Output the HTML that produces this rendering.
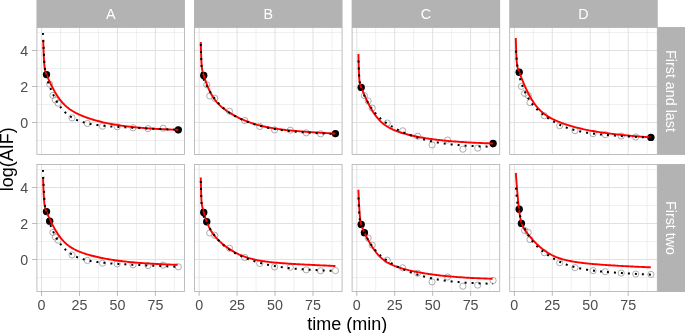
<!DOCTYPE html>
<html><head><meta charset="utf-8"><style>html,body{margin:0;padding:0;background:#fff;overflow:hidden}svg{display:block}</style></head>
<body><svg width="685" height="333" viewBox="0 0 685 333">
<rect width="685" height="333" fill="#fff"/>
<g>
<line x1="60.52" y1="27.50" x2="60.52" y2="154.50" stroke="#dedede" stroke-width="0.45"/>
<line x1="98.47" y1="27.50" x2="98.47" y2="154.50" stroke="#dedede" stroke-width="0.45"/>
<line x1="136.43" y1="27.50" x2="136.43" y2="154.50" stroke="#dedede" stroke-width="0.45"/>
<line x1="174.38" y1="27.50" x2="174.38" y2="154.50" stroke="#dedede" stroke-width="0.45"/>
<line x1="36.90" y1="140.50" x2="184.50" y2="140.50" stroke="#dedede" stroke-width="0.45"/>
<line x1="36.90" y1="104.50" x2="184.50" y2="104.50" stroke="#dedede" stroke-width="0.45"/>
<line x1="36.90" y1="68.50" x2="184.50" y2="68.50" stroke="#dedede" stroke-width="0.45"/>
<line x1="36.90" y1="32.50" x2="184.50" y2="32.50" stroke="#dedede" stroke-width="0.45"/>
<line x1="41.55" y1="27.50" x2="41.55" y2="154.50" stroke="#dedede" stroke-width="0.9"/>
<line x1="79.50" y1="27.50" x2="79.50" y2="154.50" stroke="#dedede" stroke-width="0.9"/>
<line x1="117.45" y1="27.50" x2="117.45" y2="154.50" stroke="#dedede" stroke-width="0.9"/>
<line x1="155.40" y1="27.50" x2="155.40" y2="154.50" stroke="#dedede" stroke-width="0.9"/>
<line x1="36.90" y1="122.50" x2="184.50" y2="122.50" stroke="#dedede" stroke-width="0.9"/>
<line x1="36.90" y1="86.50" x2="184.50" y2="86.50" stroke="#dedede" stroke-width="0.9"/>
<line x1="36.90" y1="50.50" x2="184.50" y2="50.50" stroke="#dedede" stroke-width="0.9"/>
</g>
<g>
<line x1="218.12" y1="27.50" x2="218.12" y2="154.50" stroke="#dedede" stroke-width="0.45"/>
<line x1="256.07" y1="27.50" x2="256.07" y2="154.50" stroke="#dedede" stroke-width="0.45"/>
<line x1="294.02" y1="27.50" x2="294.02" y2="154.50" stroke="#dedede" stroke-width="0.45"/>
<line x1="331.98" y1="27.50" x2="331.98" y2="154.50" stroke="#dedede" stroke-width="0.45"/>
<line x1="194.50" y1="140.50" x2="342.10" y2="140.50" stroke="#dedede" stroke-width="0.45"/>
<line x1="194.50" y1="104.50" x2="342.10" y2="104.50" stroke="#dedede" stroke-width="0.45"/>
<line x1="194.50" y1="68.50" x2="342.10" y2="68.50" stroke="#dedede" stroke-width="0.45"/>
<line x1="194.50" y1="32.50" x2="342.10" y2="32.50" stroke="#dedede" stroke-width="0.45"/>
<line x1="199.15" y1="27.50" x2="199.15" y2="154.50" stroke="#dedede" stroke-width="0.9"/>
<line x1="237.10" y1="27.50" x2="237.10" y2="154.50" stroke="#dedede" stroke-width="0.9"/>
<line x1="275.05" y1="27.50" x2="275.05" y2="154.50" stroke="#dedede" stroke-width="0.9"/>
<line x1="313.00" y1="27.50" x2="313.00" y2="154.50" stroke="#dedede" stroke-width="0.9"/>
<line x1="194.50" y1="122.50" x2="342.10" y2="122.50" stroke="#dedede" stroke-width="0.9"/>
<line x1="194.50" y1="86.50" x2="342.10" y2="86.50" stroke="#dedede" stroke-width="0.9"/>
<line x1="194.50" y1="50.50" x2="342.10" y2="50.50" stroke="#dedede" stroke-width="0.9"/>
</g>
<g>
<line x1="375.72" y1="27.50" x2="375.72" y2="154.50" stroke="#dedede" stroke-width="0.45"/>
<line x1="413.67" y1="27.50" x2="413.67" y2="154.50" stroke="#dedede" stroke-width="0.45"/>
<line x1="451.62" y1="27.50" x2="451.62" y2="154.50" stroke="#dedede" stroke-width="0.45"/>
<line x1="489.57" y1="27.50" x2="489.57" y2="154.50" stroke="#dedede" stroke-width="0.45"/>
<line x1="352.10" y1="140.50" x2="499.70" y2="140.50" stroke="#dedede" stroke-width="0.45"/>
<line x1="352.10" y1="104.50" x2="499.70" y2="104.50" stroke="#dedede" stroke-width="0.45"/>
<line x1="352.10" y1="68.50" x2="499.70" y2="68.50" stroke="#dedede" stroke-width="0.45"/>
<line x1="352.10" y1="32.50" x2="499.70" y2="32.50" stroke="#dedede" stroke-width="0.45"/>
<line x1="356.75" y1="27.50" x2="356.75" y2="154.50" stroke="#dedede" stroke-width="0.9"/>
<line x1="394.70" y1="27.50" x2="394.70" y2="154.50" stroke="#dedede" stroke-width="0.9"/>
<line x1="432.65" y1="27.50" x2="432.65" y2="154.50" stroke="#dedede" stroke-width="0.9"/>
<line x1="470.60" y1="27.50" x2="470.60" y2="154.50" stroke="#dedede" stroke-width="0.9"/>
<line x1="352.10" y1="122.50" x2="499.70" y2="122.50" stroke="#dedede" stroke-width="0.9"/>
<line x1="352.10" y1="86.50" x2="499.70" y2="86.50" stroke="#dedede" stroke-width="0.9"/>
<line x1="352.10" y1="50.50" x2="499.70" y2="50.50" stroke="#dedede" stroke-width="0.9"/>
</g>
<g>
<line x1="533.32" y1="27.50" x2="533.32" y2="154.50" stroke="#dedede" stroke-width="0.45"/>
<line x1="571.27" y1="27.50" x2="571.27" y2="154.50" stroke="#dedede" stroke-width="0.45"/>
<line x1="609.22" y1="27.50" x2="609.22" y2="154.50" stroke="#dedede" stroke-width="0.45"/>
<line x1="647.17" y1="27.50" x2="647.17" y2="154.50" stroke="#dedede" stroke-width="0.45"/>
<line x1="509.70" y1="140.50" x2="657.30" y2="140.50" stroke="#dedede" stroke-width="0.45"/>
<line x1="509.70" y1="104.50" x2="657.30" y2="104.50" stroke="#dedede" stroke-width="0.45"/>
<line x1="509.70" y1="68.50" x2="657.30" y2="68.50" stroke="#dedede" stroke-width="0.45"/>
<line x1="509.70" y1="32.50" x2="657.30" y2="32.50" stroke="#dedede" stroke-width="0.45"/>
<line x1="514.35" y1="27.50" x2="514.35" y2="154.50" stroke="#dedede" stroke-width="0.9"/>
<line x1="552.30" y1="27.50" x2="552.30" y2="154.50" stroke="#dedede" stroke-width="0.9"/>
<line x1="590.25" y1="27.50" x2="590.25" y2="154.50" stroke="#dedede" stroke-width="0.9"/>
<line x1="628.20" y1="27.50" x2="628.20" y2="154.50" stroke="#dedede" stroke-width="0.9"/>
<line x1="509.70" y1="122.50" x2="657.30" y2="122.50" stroke="#dedede" stroke-width="0.9"/>
<line x1="509.70" y1="86.50" x2="657.30" y2="86.50" stroke="#dedede" stroke-width="0.9"/>
<line x1="509.70" y1="50.50" x2="657.30" y2="50.50" stroke="#dedede" stroke-width="0.9"/>
</g>
<g>
<line x1="60.52" y1="164.50" x2="60.52" y2="291.50" stroke="#dedede" stroke-width="0.45"/>
<line x1="98.47" y1="164.50" x2="98.47" y2="291.50" stroke="#dedede" stroke-width="0.45"/>
<line x1="136.43" y1="164.50" x2="136.43" y2="291.50" stroke="#dedede" stroke-width="0.45"/>
<line x1="174.38" y1="164.50" x2="174.38" y2="291.50" stroke="#dedede" stroke-width="0.45"/>
<line x1="36.90" y1="277.50" x2="184.50" y2="277.50" stroke="#dedede" stroke-width="0.45"/>
<line x1="36.90" y1="241.50" x2="184.50" y2="241.50" stroke="#dedede" stroke-width="0.45"/>
<line x1="36.90" y1="205.50" x2="184.50" y2="205.50" stroke="#dedede" stroke-width="0.45"/>
<line x1="36.90" y1="169.50" x2="184.50" y2="169.50" stroke="#dedede" stroke-width="0.45"/>
<line x1="41.55" y1="164.50" x2="41.55" y2="291.50" stroke="#dedede" stroke-width="0.9"/>
<line x1="79.50" y1="164.50" x2="79.50" y2="291.50" stroke="#dedede" stroke-width="0.9"/>
<line x1="117.45" y1="164.50" x2="117.45" y2="291.50" stroke="#dedede" stroke-width="0.9"/>
<line x1="155.40" y1="164.50" x2="155.40" y2="291.50" stroke="#dedede" stroke-width="0.9"/>
<line x1="36.90" y1="259.50" x2="184.50" y2="259.50" stroke="#dedede" stroke-width="0.9"/>
<line x1="36.90" y1="223.50" x2="184.50" y2="223.50" stroke="#dedede" stroke-width="0.9"/>
<line x1="36.90" y1="187.50" x2="184.50" y2="187.50" stroke="#dedede" stroke-width="0.9"/>
</g>
<g>
<line x1="218.12" y1="164.50" x2="218.12" y2="291.50" stroke="#dedede" stroke-width="0.45"/>
<line x1="256.07" y1="164.50" x2="256.07" y2="291.50" stroke="#dedede" stroke-width="0.45"/>
<line x1="294.02" y1="164.50" x2="294.02" y2="291.50" stroke="#dedede" stroke-width="0.45"/>
<line x1="331.98" y1="164.50" x2="331.98" y2="291.50" stroke="#dedede" stroke-width="0.45"/>
<line x1="194.50" y1="277.50" x2="342.10" y2="277.50" stroke="#dedede" stroke-width="0.45"/>
<line x1="194.50" y1="241.50" x2="342.10" y2="241.50" stroke="#dedede" stroke-width="0.45"/>
<line x1="194.50" y1="205.50" x2="342.10" y2="205.50" stroke="#dedede" stroke-width="0.45"/>
<line x1="194.50" y1="169.50" x2="342.10" y2="169.50" stroke="#dedede" stroke-width="0.45"/>
<line x1="199.15" y1="164.50" x2="199.15" y2="291.50" stroke="#dedede" stroke-width="0.9"/>
<line x1="237.10" y1="164.50" x2="237.10" y2="291.50" stroke="#dedede" stroke-width="0.9"/>
<line x1="275.05" y1="164.50" x2="275.05" y2="291.50" stroke="#dedede" stroke-width="0.9"/>
<line x1="313.00" y1="164.50" x2="313.00" y2="291.50" stroke="#dedede" stroke-width="0.9"/>
<line x1="194.50" y1="259.50" x2="342.10" y2="259.50" stroke="#dedede" stroke-width="0.9"/>
<line x1="194.50" y1="223.50" x2="342.10" y2="223.50" stroke="#dedede" stroke-width="0.9"/>
<line x1="194.50" y1="187.50" x2="342.10" y2="187.50" stroke="#dedede" stroke-width="0.9"/>
</g>
<g>
<line x1="375.72" y1="164.50" x2="375.72" y2="291.50" stroke="#dedede" stroke-width="0.45"/>
<line x1="413.67" y1="164.50" x2="413.67" y2="291.50" stroke="#dedede" stroke-width="0.45"/>
<line x1="451.62" y1="164.50" x2="451.62" y2="291.50" stroke="#dedede" stroke-width="0.45"/>
<line x1="489.57" y1="164.50" x2="489.57" y2="291.50" stroke="#dedede" stroke-width="0.45"/>
<line x1="352.10" y1="277.50" x2="499.70" y2="277.50" stroke="#dedede" stroke-width="0.45"/>
<line x1="352.10" y1="241.50" x2="499.70" y2="241.50" stroke="#dedede" stroke-width="0.45"/>
<line x1="352.10" y1="205.50" x2="499.70" y2="205.50" stroke="#dedede" stroke-width="0.45"/>
<line x1="352.10" y1="169.50" x2="499.70" y2="169.50" stroke="#dedede" stroke-width="0.45"/>
<line x1="356.75" y1="164.50" x2="356.75" y2="291.50" stroke="#dedede" stroke-width="0.9"/>
<line x1="394.70" y1="164.50" x2="394.70" y2="291.50" stroke="#dedede" stroke-width="0.9"/>
<line x1="432.65" y1="164.50" x2="432.65" y2="291.50" stroke="#dedede" stroke-width="0.9"/>
<line x1="470.60" y1="164.50" x2="470.60" y2="291.50" stroke="#dedede" stroke-width="0.9"/>
<line x1="352.10" y1="259.50" x2="499.70" y2="259.50" stroke="#dedede" stroke-width="0.9"/>
<line x1="352.10" y1="223.50" x2="499.70" y2="223.50" stroke="#dedede" stroke-width="0.9"/>
<line x1="352.10" y1="187.50" x2="499.70" y2="187.50" stroke="#dedede" stroke-width="0.9"/>
</g>
<g>
<line x1="533.32" y1="164.50" x2="533.32" y2="291.50" stroke="#dedede" stroke-width="0.45"/>
<line x1="571.27" y1="164.50" x2="571.27" y2="291.50" stroke="#dedede" stroke-width="0.45"/>
<line x1="609.22" y1="164.50" x2="609.22" y2="291.50" stroke="#dedede" stroke-width="0.45"/>
<line x1="647.17" y1="164.50" x2="647.17" y2="291.50" stroke="#dedede" stroke-width="0.45"/>
<line x1="509.70" y1="277.50" x2="657.30" y2="277.50" stroke="#dedede" stroke-width="0.45"/>
<line x1="509.70" y1="241.50" x2="657.30" y2="241.50" stroke="#dedede" stroke-width="0.45"/>
<line x1="509.70" y1="205.50" x2="657.30" y2="205.50" stroke="#dedede" stroke-width="0.45"/>
<line x1="509.70" y1="169.50" x2="657.30" y2="169.50" stroke="#dedede" stroke-width="0.45"/>
<line x1="514.35" y1="164.50" x2="514.35" y2="291.50" stroke="#dedede" stroke-width="0.9"/>
<line x1="552.30" y1="164.50" x2="552.30" y2="291.50" stroke="#dedede" stroke-width="0.9"/>
<line x1="590.25" y1="164.50" x2="590.25" y2="291.50" stroke="#dedede" stroke-width="0.9"/>
<line x1="628.20" y1="164.50" x2="628.20" y2="291.50" stroke="#dedede" stroke-width="0.9"/>
<line x1="509.70" y1="259.50" x2="657.30" y2="259.50" stroke="#dedede" stroke-width="0.9"/>
<line x1="509.70" y1="223.50" x2="657.30" y2="223.50" stroke="#dedede" stroke-width="0.9"/>
<line x1="509.70" y1="187.50" x2="657.30" y2="187.50" stroke="#dedede" stroke-width="0.9"/>
</g>
<circle cx="46.50" cy="74.60" r="3.1" fill="none" stroke="#9e9e9e" stroke-width="0.85"/>
<circle cx="49.70" cy="84.20" r="3.1" fill="none" stroke="#9e9e9e" stroke-width="0.85"/>
<circle cx="52.90" cy="95.40" r="3.1" fill="none" stroke="#9e9e9e" stroke-width="0.85"/>
<circle cx="55.30" cy="100.00" r="3.1" fill="none" stroke="#9e9e9e" stroke-width="0.85"/>
<circle cx="58.10" cy="103.20" r="3.1" fill="none" stroke="#9e9e9e" stroke-width="0.85"/>
<circle cx="72.00" cy="117.90" r="3.1" fill="none" stroke="#9e9e9e" stroke-width="0.85"/>
<circle cx="87.40" cy="123.50" r="3.1" fill="none" stroke="#9e9e9e" stroke-width="0.85"/>
<circle cx="102.50" cy="126.20" r="3.1" fill="none" stroke="#9e9e9e" stroke-width="0.85"/>
<circle cx="117.20" cy="126.80" r="3.1" fill="none" stroke="#9e9e9e" stroke-width="0.85"/>
<circle cx="133.00" cy="127.80" r="3.1" fill="none" stroke="#9e9e9e" stroke-width="0.85"/>
<circle cx="148.00" cy="128.60" r="3.1" fill="none" stroke="#9e9e9e" stroke-width="0.85"/>
<circle cx="163.10" cy="128.20" r="3.1" fill="none" stroke="#9e9e9e" stroke-width="0.85"/>
<circle cx="178.30" cy="129.85" r="3.1" fill="none" stroke="#9e9e9e" stroke-width="0.85"/>
<circle cx="46.50" cy="74.60" r="3.65" fill="#000"/>
<circle cx="178.30" cy="129.85" r="3.65" fill="#000"/>
<path d="M43.22 40.45 L43.22 40.63 L43.24 41.16 L43.27 42.04 L43.30 43.25 L43.35 44.77 L43.41 46.56 L43.48 48.60 L43.56 50.82 L43.65 53.16 L43.75 55.57 L43.87 57.95 L43.99 60.24 L44.12 62.37 L44.27 64.28 L44.42 65.96 L44.59 67.40 L44.76 68.62 L44.95 69.66 L45.15 70.55 L45.36 71.33 L45.58 72.04 L45.80 72.72 L46.05 73.37 L46.30 74.01 L46.56 74.66 L46.83 75.31 L47.11 75.98 L47.41 76.67 L47.71 77.37 L48.03 78.09 L48.35 78.83 L48.69 79.58 L49.04 80.35 L49.40 81.14 L49.76 81.93 L50.14 82.74 L50.53 83.56 L50.93 84.39 L51.35 85.23 L51.77 86.08 L52.20 86.94 L52.64 87.80 L53.10 88.66 L53.56 89.53 L54.04 90.40 L54.53 91.26 L55.02 92.13 L55.53 92.99 L56.05 93.85 L56.58 94.70 L57.12 95.54 L57.67 96.38 L58.23 97.21 L58.80 98.02 L59.38 98.82 L59.98 99.61 L60.58 100.39 L61.19 101.15 L61.82 101.89 L62.45 102.62 L63.10 103.33 L63.76 104.02 L64.43 104.70 L65.10 105.35 L65.79 105.99 L66.49 106.62 L67.20 107.22 L67.93 107.81 L68.66 108.38 L69.40 108.94 L70.15 109.48 L70.92 110.00 L71.69 110.51 L72.48 111.01 L73.27 111.49 L74.08 111.96 L74.90 112.42 L75.73 112.87 L76.57 113.30 L77.42 113.72 L78.28 114.14 L79.15 114.55 L80.03 114.94 L80.92 115.33 L81.82 115.71 L82.74 116.08 L83.66 116.45 L84.60 116.81 L85.54 117.16 L86.50 117.51 L87.47 117.85 L88.44 118.18 L89.43 118.51 L90.43 118.84 L91.44 119.16 L92.46 119.47 L93.49 119.78 L94.53 120.08 L95.59 120.38 L96.65 120.67 L97.72 120.96 L98.81 121.24 L99.90 121.52 L101.01 121.79 L102.13 122.06 L103.25 122.32 L104.39 122.58 L105.54 122.84 L106.70 123.08 L107.87 123.33 L109.05 123.56 L110.24 123.80 L111.45 124.02 L112.66 124.25 L113.88 124.46 L115.12 124.68 L116.36 124.88 L117.62 125.09 L118.88 125.28 L120.16 125.48 L121.45 125.66 L122.75 125.85 L124.06 126.02 L125.38 126.19 L126.71 126.36 L128.05 126.53 L129.40 126.68 L130.76 126.84 L132.13 126.99 L133.52 127.13 L134.91 127.27 L136.32 127.41 L137.73 127.54 L139.16 127.67 L140.60 127.79 L142.05 127.91 L143.51 128.03 L144.97 128.14 L146.45 128.25 L147.95 128.36 L149.45 128.46 L150.96 128.56 L152.48 128.65 L154.02 128.75 L155.56 128.84 L157.11 128.93 L158.68 129.01 L160.26 129.09 L161.84 129.17 L163.44 129.25 L165.05 129.32 L166.67 129.40 L168.30 129.47 L169.94 129.53 L171.59 129.60 L173.25 129.67 L174.92 129.73 L176.61 129.79 L178.30 129.85" fill="none" stroke="#ff0000" stroke-width="1.9" stroke-linejoin="round"/>
<path d="M42.99 32.90 L42.99 33.04 L43.01 33.45 L43.04 34.14 L43.07 35.10 L43.12 36.32 L43.18 37.80 L43.25 39.51 L43.33 41.46 L43.42 43.60 L43.52 45.92 L43.64 48.39 L43.76 50.97 L43.89 53.62 L44.04 56.29 L44.19 58.92 L44.36 61.47 L44.54 63.88 L44.72 66.12 L44.92 68.17 L45.13 70.01 L45.35 71.64 L45.58 73.10 L45.82 74.40 L46.07 75.58 L46.33 76.66 L46.61 77.66 L46.89 78.63 L47.19 79.56 L47.49 80.48 L47.81 81.39 L48.13 82.31 L48.47 83.23 L48.82 84.16 L49.18 85.10 L49.55 86.05 L49.93 87.01 L50.32 87.98 L50.72 88.96 L51.13 89.95 L51.55 90.94 L51.99 91.93 L52.43 92.92 L52.89 93.92 L53.35 94.91 L53.83 95.90 L54.31 96.88 L54.81 97.86 L55.32 98.83 L55.84 99.78 L56.37 100.73 L56.91 101.66 L57.46 102.58 L58.02 103.48 L58.60 104.36 L59.18 105.23 L59.77 106.07 L60.38 106.90 L60.99 107.70 L61.62 108.49 L62.26 109.25 L62.90 109.99 L63.56 110.71 L64.23 111.41 L64.91 112.08 L65.60 112.74 L66.30 113.37 L67.02 113.98 L67.74 114.57 L68.47 115.14 L69.22 115.68 L69.97 116.21 L70.74 116.72 L71.51 117.21 L72.30 117.68 L73.10 118.13 L73.90 118.57 L74.72 118.98 L75.55 119.39 L76.39 119.77 L77.24 120.14 L78.11 120.49 L78.98 120.83 L79.86 121.16 L80.75 121.47 L81.66 121.77 L82.57 122.06 L83.50 122.33 L84.44 122.59 L85.38 122.84 L86.34 123.08 L87.31 123.31 L88.29 123.52 L89.28 123.73 L90.28 123.93 L91.29 124.12 L92.32 124.30 L93.35 124.47 L94.39 124.64 L95.45 124.80 L96.51 124.95 L97.59 125.09 L98.67 125.23 L99.77 125.37 L100.88 125.49 L102.00 125.62 L103.13 125.73 L104.27 125.85 L105.42 125.96 L106.58 126.06 L107.75 126.16 L108.93 126.26 L110.13 126.36 L111.33 126.45 L112.55 126.54 L113.77 126.62 L115.01 126.71 L116.26 126.79 L117.51 126.87 L118.78 126.95 L120.06 127.03 L121.35 127.11 L122.65 127.18 L123.96 127.26 L125.29 127.33 L126.62 127.40 L127.96 127.48 L129.32 127.55 L130.68 127.62 L132.06 127.69 L133.44 127.76 L134.84 127.83 L136.25 127.90 L137.67 127.97 L139.09 128.04 L140.53 128.11 L141.98 128.18 L143.45 128.25 L144.92 128.31 L146.40 128.38 L147.89 128.45 L149.40 128.52 L150.91 128.59 L152.44 128.66 L153.97 128.74 L155.52 128.81 L157.08 128.88 L158.65 128.95 L160.23 129.02 L161.81 129.09 L163.42 129.17 L165.03 129.24 L166.65 129.31 L168.28 129.39 L169.92 129.46 L171.58 129.53 L173.24 129.61 L174.92 129.69 L176.60 129.76 L178.30 129.84" fill="none" stroke="#000" stroke-width="2.0" stroke-dasharray="2 5"/>
<circle cx="46.50" cy="211.60" r="3.1" fill="none" stroke="#9e9e9e" stroke-width="0.85"/>
<circle cx="49.70" cy="221.20" r="3.1" fill="none" stroke="#9e9e9e" stroke-width="0.85"/>
<circle cx="52.90" cy="232.40" r="3.1" fill="none" stroke="#9e9e9e" stroke-width="0.85"/>
<circle cx="55.30" cy="237.00" r="3.1" fill="none" stroke="#9e9e9e" stroke-width="0.85"/>
<circle cx="58.10" cy="240.20" r="3.1" fill="none" stroke="#9e9e9e" stroke-width="0.85"/>
<circle cx="72.00" cy="254.90" r="3.1" fill="none" stroke="#9e9e9e" stroke-width="0.85"/>
<circle cx="87.40" cy="260.50" r="3.1" fill="none" stroke="#9e9e9e" stroke-width="0.85"/>
<circle cx="102.50" cy="263.20" r="3.1" fill="none" stroke="#9e9e9e" stroke-width="0.85"/>
<circle cx="117.20" cy="263.80" r="3.1" fill="none" stroke="#9e9e9e" stroke-width="0.85"/>
<circle cx="133.00" cy="264.80" r="3.1" fill="none" stroke="#9e9e9e" stroke-width="0.85"/>
<circle cx="148.00" cy="265.60" r="3.1" fill="none" stroke="#9e9e9e" stroke-width="0.85"/>
<circle cx="163.10" cy="265.20" r="3.1" fill="none" stroke="#9e9e9e" stroke-width="0.85"/>
<circle cx="178.30" cy="266.85" r="3.1" fill="none" stroke="#9e9e9e" stroke-width="0.85"/>
<circle cx="46.50" cy="211.60" r="3.65" fill="#000"/>
<circle cx="49.70" cy="221.20" r="3.65" fill="#000"/>
<path d="M43.03 177.00 L43.03 177.17 L43.05 177.66 L43.07 178.47 L43.11 179.60 L43.16 181.01 L43.22 182.69 L43.29 184.60 L43.37 186.70 L43.46 188.94 L43.56 191.26 L43.67 193.60 L43.79 195.89 L43.93 198.06 L44.07 200.06 L44.22 201.85 L44.39 203.43 L44.57 204.78 L44.75 205.95 L44.95 206.95 L45.16 207.82 L45.38 208.60 L45.60 209.32 L45.84 210.01 L46.09 210.68 L46.36 211.34 L46.63 212.00 L46.91 212.68 L47.20 213.37 L47.51 214.07 L47.82 214.79 L48.15 215.53 L48.48 216.28 L48.83 217.06 L49.18 217.84 L49.55 218.64 L49.93 219.46 L50.32 220.28 L50.72 221.12 L51.13 221.97 L51.55 222.83 L51.98 223.69 L52.42 224.57 L52.88 225.44 L53.34 226.32 L53.81 227.21 L54.30 228.09 L54.79 228.98 L55.30 229.86 L55.82 230.73 L56.34 231.61 L56.88 232.47 L57.43 233.33 L57.99 234.18 L58.56 235.01 L59.14 235.84 L59.73 236.65 L60.33 237.44 L60.95 238.22 L61.57 238.99 L62.20 239.73 L62.85 240.46 L63.50 241.17 L64.17 241.85 L64.85 242.52 L65.53 243.17 L66.23 243.80 L66.94 244.41 L67.66 244.99 L68.39 245.56 L69.13 246.11 L69.88 246.64 L70.64 247.16 L71.41 247.65 L72.20 248.13 L72.99 248.59 L73.80 249.04 L74.61 249.47 L75.44 249.89 L76.27 250.29 L77.12 250.69 L77.98 251.07 L78.85 251.44 L79.72 251.79 L80.61 252.14 L81.51 252.48 L82.42 252.82 L83.35 253.14 L84.28 253.46 L85.22 253.77 L86.18 254.07 L87.14 254.36 L88.11 254.65 L89.10 254.94 L90.10 255.22 L91.10 255.49 L92.12 255.76 L93.15 256.02 L94.19 256.28 L95.24 256.54 L96.30 256.78 L97.37 257.03 L98.45 257.27 L99.54 257.51 L100.64 257.74 L101.76 257.97 L102.88 258.19 L104.02 258.41 L105.16 258.63 L106.32 258.84 L107.48 259.05 L108.66 259.25 L109.85 259.45 L111.05 259.65 L112.26 259.84 L113.48 260.02 L114.71 260.21 L115.95 260.39 L117.20 260.56 L118.46 260.73 L119.74 260.90 L121.02 261.06 L122.31 261.22 L123.62 261.38 L124.94 261.53 L126.26 261.68 L127.60 261.82 L128.95 261.96 L130.30 262.10 L131.67 262.23 L133.05 262.36 L134.44 262.48 L135.85 262.60 L137.26 262.72 L138.68 262.84 L140.11 262.95 L141.56 263.06 L143.01 263.16 L144.47 263.26 L145.95 263.36 L147.44 263.46 L148.93 263.55 L150.44 263.64 L151.96 263.73 L153.49 263.81 L155.03 263.90 L156.58 263.98 L158.14 264.05 L159.71 264.13 L161.29 264.20 L162.89 264.27 L164.49 264.34 L166.10 264.41 L167.73 264.47 L169.36 264.53 L171.01 264.60 L172.67 264.65 L174.33 264.71 L176.01 264.77 L177.70 264.82" fill="none" stroke="#ff0000" stroke-width="1.9" stroke-linejoin="round"/>
<path d="M42.99 169.90 L42.99 170.04 L43.01 170.45 L43.04 171.14 L43.07 172.10 L43.12 173.32 L43.18 174.80 L43.25 176.51 L43.33 178.46 L43.42 180.60 L43.52 182.92 L43.64 185.39 L43.76 187.97 L43.89 190.62 L44.04 193.29 L44.19 195.92 L44.36 198.47 L44.54 200.88 L44.72 203.12 L44.92 205.17 L45.13 207.01 L45.35 208.64 L45.58 210.10 L45.82 211.40 L46.07 212.58 L46.33 213.66 L46.61 214.66 L46.89 215.63 L47.19 216.56 L47.49 217.48 L47.81 218.39 L48.13 219.31 L48.47 220.23 L48.82 221.16 L49.18 222.10 L49.55 223.05 L49.93 224.01 L50.32 224.98 L50.72 225.96 L51.13 226.95 L51.55 227.94 L51.99 228.93 L52.43 229.92 L52.89 230.92 L53.35 231.91 L53.83 232.90 L54.31 233.88 L54.81 234.86 L55.32 235.83 L55.84 236.78 L56.37 237.73 L56.91 238.66 L57.46 239.58 L58.02 240.48 L58.60 241.36 L59.18 242.23 L59.77 243.07 L60.38 243.90 L60.99 244.70 L61.62 245.49 L62.26 246.25 L62.90 246.99 L63.56 247.71 L64.23 248.41 L64.91 249.08 L65.60 249.74 L66.30 250.37 L67.02 250.98 L67.74 251.57 L68.47 252.14 L69.22 252.68 L69.97 253.21 L70.74 253.72 L71.51 254.21 L72.30 254.68 L73.10 255.13 L73.90 255.57 L74.72 255.98 L75.55 256.39 L76.39 256.77 L77.24 257.14 L78.11 257.49 L78.98 257.83 L79.86 258.16 L80.75 258.47 L81.66 258.77 L82.57 259.06 L83.50 259.33 L84.44 259.59 L85.38 259.84 L86.34 260.08 L87.31 260.31 L88.29 260.52 L89.28 260.73 L90.28 260.93 L91.29 261.12 L92.32 261.30 L93.35 261.47 L94.39 261.64 L95.45 261.80 L96.51 261.95 L97.59 262.09 L98.67 262.23 L99.77 262.37 L100.88 262.49 L102.00 262.62 L103.13 262.73 L104.27 262.85 L105.42 262.96 L106.58 263.06 L107.75 263.16 L108.93 263.26 L110.13 263.36 L111.33 263.45 L112.55 263.54 L113.77 263.62 L115.01 263.71 L116.26 263.79 L117.51 263.87 L118.78 263.95 L120.06 264.03 L121.35 264.11 L122.65 264.18 L123.96 264.26 L125.29 264.33 L126.62 264.40 L127.96 264.48 L129.32 264.55 L130.68 264.62 L132.06 264.69 L133.44 264.76 L134.84 264.83 L136.25 264.90 L137.67 264.97 L139.09 265.04 L140.53 265.11 L141.98 265.18 L143.45 265.25 L144.92 265.31 L146.40 265.38 L147.89 265.45 L149.40 265.52 L150.91 265.59 L152.44 265.66 L153.97 265.74 L155.52 265.81 L157.08 265.88 L158.65 265.95 L160.23 266.02 L161.81 266.09 L163.42 266.17 L165.03 266.24 L166.65 266.31 L168.28 266.39 L169.92 266.46 L171.58 266.53 L173.24 266.61 L174.92 266.69 L176.60 266.76 L178.30 266.84" fill="none" stroke="#000" stroke-width="2.0" stroke-dasharray="2 5"/>
<circle cx="203.75" cy="75.45" r="3.1" fill="none" stroke="#9e9e9e" stroke-width="0.85"/>
<circle cx="206.75" cy="84.75" r="3.1" fill="none" stroke="#9e9e9e" stroke-width="0.85"/>
<circle cx="209.75" cy="96.00" r="3.1" fill="none" stroke="#9e9e9e" stroke-width="0.85"/>
<circle cx="214.70" cy="98.25" r="3.1" fill="none" stroke="#9e9e9e" stroke-width="0.85"/>
<circle cx="229.50" cy="111.25" r="3.1" fill="none" stroke="#9e9e9e" stroke-width="0.85"/>
<circle cx="244.75" cy="120.50" r="3.1" fill="none" stroke="#9e9e9e" stroke-width="0.85"/>
<circle cx="259.75" cy="126.50" r="3.1" fill="none" stroke="#9e9e9e" stroke-width="0.85"/>
<circle cx="274.60" cy="129.90" r="3.1" fill="none" stroke="#9e9e9e" stroke-width="0.85"/>
<circle cx="290.25" cy="130.20" r="3.1" fill="none" stroke="#9e9e9e" stroke-width="0.85"/>
<circle cx="306.20" cy="132.85" r="3.1" fill="none" stroke="#9e9e9e" stroke-width="0.85"/>
<circle cx="320.60" cy="133.80" r="3.1" fill="none" stroke="#9e9e9e" stroke-width="0.85"/>
<circle cx="335.40" cy="133.60" r="3.1" fill="none" stroke="#9e9e9e" stroke-width="0.85"/>
<circle cx="203.75" cy="75.45" r="3.65" fill="#000"/>
<circle cx="335.40" cy="133.60" r="3.65" fill="#000"/>
<path d="M200.79 42.00 L200.80 42.23 L200.81 42.93 L200.84 44.07 L200.88 45.62 L200.92 47.54 L200.98 49.76 L201.05 52.20 L201.13 54.76 L201.22 57.34 L201.32 59.82 L201.43 62.11 L201.56 64.13 L201.69 65.86 L201.83 67.31 L201.99 68.52 L202.15 69.54 L202.33 70.43 L202.52 71.24 L202.71 72.00 L202.92 72.75 L203.14 73.50 L203.37 74.26 L203.61 75.04 L203.86 75.84 L204.12 76.65 L204.39 77.49 L204.67 78.35 L204.97 79.22 L205.27 80.10 L205.58 81.00 L205.91 81.91 L206.24 82.83 L206.59 83.76 L206.95 84.69 L207.31 85.63 L207.69 86.57 L208.08 87.50 L208.48 88.43 L208.89 89.36 L209.31 90.27 L209.74 91.18 L210.18 92.08 L210.64 92.96 L211.10 93.83 L211.57 94.69 L212.06 95.53 L212.55 96.35 L213.06 97.15 L213.57 97.94 L214.10 98.70 L214.64 99.45 L215.19 100.18 L215.75 100.90 L216.32 101.59 L216.90 102.27 L217.49 102.93 L218.09 103.57 L218.70 104.21 L219.33 104.82 L219.96 105.43 L220.60 106.02 L221.26 106.60 L221.92 107.17 L222.60 107.73 L223.29 108.28 L223.98 108.82 L224.69 109.36 L225.41 109.89 L226.14 110.41 L226.88 110.92 L227.63 111.43 L228.39 111.94 L229.17 112.44 L229.95 112.93 L230.74 113.42 L231.55 113.91 L232.36 114.39 L233.19 114.86 L234.02 115.33 L234.87 115.80 L235.72 116.26 L236.59 116.72 L237.47 117.17 L238.36 117.61 L239.26 118.05 L240.17 118.49 L241.09 118.91 L242.02 119.34 L242.97 119.75 L243.92 120.16 L244.88 120.56 L245.86 120.96 L246.84 121.35 L247.84 121.73 L248.84 122.10 L249.86 122.47 L250.89 122.83 L251.93 123.18 L252.98 123.52 L254.04 123.86 L255.11 124.18 L256.19 124.50 L257.28 124.81 L258.38 125.12 L259.49 125.41 L260.62 125.70 L261.75 125.97 L262.90 126.25 L264.05 126.51 L265.22 126.76 L266.39 127.01 L267.58 127.25 L268.78 127.48 L269.99 127.71 L271.21 127.93 L272.44 128.14 L273.68 128.35 L274.93 128.55 L276.19 128.74 L277.46 128.93 L278.75 129.11 L280.04 129.28 L281.35 129.45 L282.66 129.62 L283.99 129.78 L285.32 129.94 L286.67 130.09 L288.03 130.23 L289.40 130.38 L290.78 130.52 L292.16 130.65 L293.57 130.78 L294.98 130.91 L296.40 131.04 L297.83 131.16 L299.27 131.28 L300.73 131.40 L302.19 131.51 L303.67 131.63 L305.15 131.74 L306.65 131.85 L308.15 131.95 L309.67 132.06 L311.20 132.16 L312.74 132.27 L314.29 132.37 L315.85 132.47 L317.42 132.57 L319.00 132.67 L320.59 132.76 L322.20 132.86 L323.81 132.96 L325.43 133.05 L327.07 133.15 L328.71 133.24 L330.37 133.34 L332.03 133.43 L333.71 133.52 L335.40 133.62" fill="none" stroke="#ff0000" stroke-width="1.9" stroke-linejoin="round"/>
<path d="M200.80 44.00 L200.80 44.20 L200.82 44.79 L200.84 45.76 L200.88 47.10 L200.93 48.79 L200.99 50.79 L201.06 53.06 L201.14 55.54 L201.23 58.16 L201.33 60.85 L201.44 63.51 L201.56 66.05 L201.70 68.39 L201.84 70.46 L201.99 72.24 L202.16 73.73 L202.34 74.95 L202.52 75.96 L202.72 76.80 L202.93 77.52 L203.14 78.17 L203.37 78.76 L203.61 79.34 L203.86 79.91 L204.12 80.48 L204.40 81.05 L204.68 81.64 L204.97 82.24 L205.27 82.86 L205.59 83.49 L205.91 84.14 L206.25 84.79 L206.59 85.46 L206.95 86.14 L207.32 86.84 L207.70 87.54 L208.09 88.25 L208.48 88.97 L208.89 89.69 L209.32 90.42 L209.75 91.16 L210.19 91.90 L210.64 92.64 L211.10 93.39 L211.58 94.13 L212.06 94.88 L212.56 95.62 L213.06 96.37 L213.58 97.10 L214.11 97.84 L214.65 98.57 L215.19 99.30 L215.75 100.02 L216.32 100.73 L216.90 101.44 L217.49 102.13 L218.10 102.82 L218.71 103.50 L219.33 104.17 L219.96 104.83 L220.61 105.48 L221.26 106.13 L221.93 106.76 L222.60 107.38 L223.29 107.99 L223.99 108.59 L224.70 109.18 L225.42 109.76 L226.15 110.33 L226.89 110.89 L227.64 111.44 L228.40 111.99 L229.17 112.52 L229.95 113.04 L230.75 113.56 L231.55 114.07 L232.36 114.57 L233.19 115.06 L234.03 115.54 L234.87 116.02 L235.73 116.49 L236.60 116.95 L237.48 117.41 L238.36 117.86 L239.26 118.30 L240.18 118.74 L241.10 119.16 L242.03 119.59 L242.97 120.00 L243.92 120.41 L244.89 120.82 L245.86 121.21 L246.85 121.60 L247.84 121.99 L248.85 122.36 L249.87 122.73 L250.89 123.10 L251.93 123.46 L252.98 123.81 L254.04 124.15 L255.11 124.49 L256.19 124.82 L257.28 125.14 L258.38 125.46 L259.50 125.77 L260.62 126.07 L261.75 126.36 L262.90 126.65 L264.05 126.93 L265.22 127.21 L266.40 127.47 L267.58 127.73 L268.78 127.98 L269.99 128.23 L271.21 128.47 L272.44 128.70 L273.68 128.92 L274.93 129.14 L276.19 129.35 L277.47 129.56 L278.75 129.75 L280.04 129.95 L281.35 130.13 L282.66 130.31 L283.99 130.48 L285.33 130.65 L286.67 130.81 L288.03 130.97 L289.40 131.12 L290.78 131.27 L292.17 131.41 L293.57 131.54 L294.98 131.67 L296.40 131.80 L297.83 131.92 L299.27 132.04 L300.73 132.15 L302.19 132.26 L303.67 132.37 L305.15 132.47 L306.65 132.57 L308.16 132.67 L309.67 132.76 L311.20 132.85 L312.74 132.94 L314.29 133.02 L315.85 133.10 L317.42 133.18 L319.00 133.26 L320.59 133.33 L322.20 133.41 L323.81 133.48 L325.43 133.55 L327.07 133.61 L328.71 133.68 L330.37 133.75 L332.04 133.81 L333.71 133.87 L335.40 133.93" fill="none" stroke="#000" stroke-width="2.0" stroke-dasharray="2 5"/>
<circle cx="203.75" cy="212.45" r="3.1" fill="none" stroke="#9e9e9e" stroke-width="0.85"/>
<circle cx="206.75" cy="221.75" r="3.1" fill="none" stroke="#9e9e9e" stroke-width="0.85"/>
<circle cx="209.75" cy="233.00" r="3.1" fill="none" stroke="#9e9e9e" stroke-width="0.85"/>
<circle cx="214.70" cy="235.25" r="3.1" fill="none" stroke="#9e9e9e" stroke-width="0.85"/>
<circle cx="229.50" cy="248.25" r="3.1" fill="none" stroke="#9e9e9e" stroke-width="0.85"/>
<circle cx="244.75" cy="257.50" r="3.1" fill="none" stroke="#9e9e9e" stroke-width="0.85"/>
<circle cx="259.75" cy="263.50" r="3.1" fill="none" stroke="#9e9e9e" stroke-width="0.85"/>
<circle cx="274.60" cy="266.90" r="3.1" fill="none" stroke="#9e9e9e" stroke-width="0.85"/>
<circle cx="290.25" cy="267.20" r="3.1" fill="none" stroke="#9e9e9e" stroke-width="0.85"/>
<circle cx="306.20" cy="269.85" r="3.1" fill="none" stroke="#9e9e9e" stroke-width="0.85"/>
<circle cx="320.60" cy="270.80" r="3.1" fill="none" stroke="#9e9e9e" stroke-width="0.85"/>
<circle cx="335.40" cy="270.60" r="3.1" fill="none" stroke="#9e9e9e" stroke-width="0.85"/>
<circle cx="203.75" cy="212.45" r="3.65" fill="#000"/>
<circle cx="206.75" cy="221.75" r="3.65" fill="#000"/>
<path d="M200.80 177.45 L200.80 177.75 L200.82 178.66 L200.84 180.13 L200.88 182.11 L200.93 184.52 L200.99 187.24 L201.06 190.13 L201.14 193.02 L201.23 195.75 L201.33 198.19 L201.44 200.25 L201.56 201.94 L201.70 203.29 L201.84 204.40 L201.99 205.34 L202.16 206.19 L202.34 206.99 L202.52 207.77 L202.72 208.57 L202.93 209.38 L203.14 210.21 L203.37 211.07 L203.61 211.94 L203.86 212.84 L204.12 213.75 L204.40 214.67 L204.68 215.61 L204.97 216.56 L205.27 217.51 L205.59 218.46 L205.91 219.42 L206.25 220.37 L206.59 221.32 L206.95 222.27 L207.32 223.20 L207.70 224.12 L208.09 225.03 L208.48 225.93 L208.89 226.80 L209.32 227.66 L209.75 228.51 L210.19 229.33 L210.64 230.14 L211.10 230.93 L211.58 231.70 L212.06 232.45 L212.56 233.19 L213.06 233.91 L213.58 234.61 L214.11 235.30 L214.65 235.98 L215.19 236.64 L215.75 237.30 L216.32 237.94 L216.90 238.57 L217.49 239.20 L218.10 239.81 L218.71 240.42 L219.33 241.02 L219.96 241.62 L220.61 242.21 L221.26 242.79 L221.93 243.37 L222.60 243.95 L223.29 244.52 L223.99 245.08 L224.70 245.64 L225.42 246.20 L226.15 246.75 L226.89 247.29 L227.64 247.83 L228.40 248.36 L229.17 248.89 L229.95 249.40 L230.75 249.91 L231.55 250.42 L232.36 250.91 L233.19 251.40 L234.03 251.88 L234.87 252.34 L235.73 252.80 L236.60 253.25 L237.48 253.69 L238.36 254.12 L239.26 254.54 L240.18 254.94 L241.10 255.34 L242.03 255.73 L242.97 256.10 L243.92 256.46 L244.89 256.81 L245.86 257.15 L246.85 257.48 L247.84 257.79 L248.85 258.10 L249.87 258.39 L250.89 258.67 L251.93 258.95 L252.98 259.21 L254.04 259.46 L255.11 259.70 L256.19 259.93 L257.28 260.15 L258.38 260.37 L259.50 260.57 L260.62 260.77 L261.75 260.95 L262.90 261.13 L264.05 261.31 L265.22 261.47 L266.40 261.63 L267.58 261.78 L268.78 261.93 L269.99 262.07 L271.21 262.20 L272.44 262.33 L273.68 262.46 L274.93 262.58 L276.19 262.70 L277.47 262.81 L278.75 262.92 L280.04 263.02 L281.35 263.13 L282.66 263.23 L283.99 263.32 L285.33 263.42 L286.67 263.51 L288.03 263.60 L289.40 263.69 L290.78 263.78 L292.17 263.86 L293.57 263.94 L294.98 264.03 L296.40 264.11 L297.83 264.19 L299.27 264.27 L300.73 264.35 L302.19 264.42 L303.67 264.50 L305.15 264.58 L306.65 264.65 L308.16 264.73 L309.67 264.81 L311.20 264.88 L312.74 264.96 L314.29 265.03 L315.85 265.11 L317.42 265.18 L319.00 265.26 L320.59 265.34 L322.20 265.41 L323.81 265.49 L325.43 265.56 L327.07 265.64 L328.71 265.72 L330.37 265.79 L332.04 265.87 L333.71 265.95 L335.40 266.03" fill="none" stroke="#ff0000" stroke-width="1.9" stroke-linejoin="round"/>
<path d="M200.80 181.00 L200.80 181.20 L200.82 181.79 L200.84 182.76 L200.88 184.10 L200.93 185.79 L200.99 187.79 L201.06 190.06 L201.14 192.54 L201.23 195.16 L201.33 197.85 L201.44 200.51 L201.56 203.05 L201.70 205.39 L201.84 207.46 L201.99 209.24 L202.16 210.73 L202.34 211.95 L202.52 212.96 L202.72 213.80 L202.93 214.52 L203.14 215.17 L203.37 215.76 L203.61 216.34 L203.86 216.91 L204.12 217.48 L204.40 218.05 L204.68 218.64 L204.97 219.24 L205.27 219.86 L205.59 220.49 L205.91 221.14 L206.25 221.79 L206.59 222.46 L206.95 223.14 L207.32 223.84 L207.70 224.54 L208.09 225.25 L208.48 225.97 L208.89 226.69 L209.32 227.42 L209.75 228.16 L210.19 228.90 L210.64 229.64 L211.10 230.39 L211.58 231.13 L212.06 231.88 L212.56 232.62 L213.06 233.37 L213.58 234.10 L214.11 234.84 L214.65 235.57 L215.19 236.30 L215.75 237.02 L216.32 237.73 L216.90 238.44 L217.49 239.13 L218.10 239.82 L218.71 240.50 L219.33 241.17 L219.96 241.83 L220.61 242.48 L221.26 243.13 L221.93 243.76 L222.60 244.38 L223.29 244.99 L223.99 245.59 L224.70 246.18 L225.42 246.76 L226.15 247.33 L226.89 247.89 L227.64 248.44 L228.40 248.99 L229.17 249.52 L229.95 250.04 L230.75 250.56 L231.55 251.07 L232.36 251.57 L233.19 252.06 L234.03 252.54 L234.87 253.02 L235.73 253.49 L236.60 253.95 L237.48 254.41 L238.36 254.86 L239.26 255.30 L240.18 255.74 L241.10 256.16 L242.03 256.59 L242.97 257.00 L243.92 257.41 L244.89 257.82 L245.86 258.21 L246.85 258.60 L247.84 258.99 L248.85 259.36 L249.87 259.73 L250.89 260.10 L251.93 260.46 L252.98 260.81 L254.04 261.15 L255.11 261.49 L256.19 261.82 L257.28 262.14 L258.38 262.46 L259.50 262.77 L260.62 263.07 L261.75 263.36 L262.90 263.65 L264.05 263.93 L265.22 264.21 L266.40 264.47 L267.58 264.73 L268.78 264.98 L269.99 265.23 L271.21 265.47 L272.44 265.70 L273.68 265.92 L274.93 266.14 L276.19 266.35 L277.47 266.56 L278.75 266.75 L280.04 266.95 L281.35 267.13 L282.66 267.31 L283.99 267.48 L285.33 267.65 L286.67 267.81 L288.03 267.97 L289.40 268.12 L290.78 268.27 L292.17 268.41 L293.57 268.54 L294.98 268.67 L296.40 268.80 L297.83 268.92 L299.27 269.04 L300.73 269.15 L302.19 269.26 L303.67 269.37 L305.15 269.47 L306.65 269.57 L308.16 269.67 L309.67 269.76 L311.20 269.85 L312.74 269.94 L314.29 270.02 L315.85 270.10 L317.42 270.18 L319.00 270.26 L320.59 270.33 L322.20 270.41 L323.81 270.48 L325.43 270.55 L327.07 270.61 L328.71 270.68 L330.37 270.75 L332.04 270.81 L333.71 270.87 L335.40 270.93" fill="none" stroke="#000" stroke-width="2.0" stroke-dasharray="2 5"/>
<circle cx="361.20" cy="87.40" r="3.1" fill="none" stroke="#9e9e9e" stroke-width="0.85"/>
<circle cx="364.40" cy="95.70" r="3.1" fill="none" stroke="#9e9e9e" stroke-width="0.85"/>
<circle cx="368.20" cy="101.00" r="3.1" fill="none" stroke="#9e9e9e" stroke-width="0.85"/>
<circle cx="372.20" cy="108.10" r="3.1" fill="none" stroke="#9e9e9e" stroke-width="0.85"/>
<circle cx="387.25" cy="123.10" r="3.1" fill="none" stroke="#9e9e9e" stroke-width="0.85"/>
<circle cx="402.70" cy="130.80" r="3.1" fill="none" stroke="#9e9e9e" stroke-width="0.85"/>
<circle cx="417.70" cy="136.20" r="3.1" fill="none" stroke="#9e9e9e" stroke-width="0.85"/>
<circle cx="432.05" cy="144.90" r="3.1" fill="none" stroke="#9e9e9e" stroke-width="0.85"/>
<circle cx="447.60" cy="140.00" r="3.1" fill="none" stroke="#9e9e9e" stroke-width="0.85"/>
<circle cx="462.90" cy="149.20" r="3.1" fill="none" stroke="#9e9e9e" stroke-width="0.85"/>
<circle cx="477.70" cy="148.10" r="3.1" fill="none" stroke="#9e9e9e" stroke-width="0.85"/>
<circle cx="493.10" cy="143.50" r="3.1" fill="none" stroke="#9e9e9e" stroke-width="0.85"/>
<circle cx="361.20" cy="87.40" r="3.65" fill="#000"/>
<circle cx="493.10" cy="143.50" r="3.65" fill="#000"/>
<path d="M358.44 54.00 L358.45 54.25 L358.47 54.99 L358.49 56.21 L358.53 57.87 L358.58 59.94 L358.64 62.33 L358.71 64.98 L358.79 67.76 L358.88 70.57 L358.98 73.26 L359.09 75.73 L359.21 77.88 L359.34 79.67 L359.49 81.12 L359.64 82.28 L359.81 83.20 L359.98 83.97 L360.17 84.63 L360.37 85.24 L360.58 85.82 L360.79 86.40 L361.02 86.99 L361.26 87.59 L361.51 88.21 L361.77 88.85 L362.05 89.51 L362.33 90.19 L362.62 90.90 L362.92 91.62 L363.24 92.36 L363.56 93.13 L363.90 93.91 L364.25 94.70 L364.60 95.52 L364.97 96.34 L365.35 97.19 L365.74 98.04 L366.14 98.91 L366.55 99.79 L366.97 100.68 L367.40 101.58 L367.84 102.48 L368.29 103.39 L368.76 104.30 L369.23 105.22 L369.72 106.14 L370.21 107.05 L370.72 107.97 L371.23 108.88 L371.76 109.78 L372.30 110.68 L372.85 111.57 L373.41 112.44 L373.98 113.31 L374.56 114.16 L375.15 115.00 L375.75 115.82 L376.36 116.63 L376.99 117.42 L377.62 118.19 L378.26 118.94 L378.92 119.66 L379.58 120.37 L380.26 121.06 L380.95 121.73 L381.65 122.37 L382.35 122.99 L383.07 123.59 L383.80 124.18 L384.54 124.74 L385.29 125.28 L386.06 125.80 L386.83 126.31 L387.61 126.79 L388.41 127.26 L389.21 127.71 L390.02 128.15 L390.85 128.58 L391.69 128.98 L392.53 129.38 L393.39 129.77 L394.26 130.14 L395.14 130.50 L396.03 130.85 L396.93 131.19 L397.84 131.53 L398.76 131.85 L399.69 132.17 L400.63 132.48 L401.59 132.78 L402.55 133.08 L403.53 133.37 L404.51 133.65 L405.51 133.93 L406.51 134.20 L407.53 134.47 L408.56 134.73 L409.60 134.99 L410.65 135.24 L411.71 135.49 L412.78 135.74 L413.86 135.97 L414.95 136.21 L416.05 136.44 L417.17 136.66 L418.29 136.89 L419.43 137.10 L420.57 137.31 L421.73 137.52 L422.89 137.73 L424.07 137.93 L425.26 138.12 L426.46 138.32 L427.67 138.50 L428.89 138.69 L430.12 138.87 L431.36 139.04 L432.61 139.21 L433.87 139.38 L435.14 139.55 L436.43 139.71 L437.72 139.86 L439.03 140.01 L440.34 140.16 L441.67 140.31 L443.01 140.45 L444.35 140.58 L445.71 140.72 L447.08 140.85 L448.46 140.98 L449.85 141.10 L451.25 141.22 L452.66 141.34 L454.08 141.45 L455.52 141.56 L456.96 141.67 L458.41 141.77 L459.88 141.87 L461.35 141.97 L462.84 142.07 L464.34 142.16 L465.85 142.26 L467.36 142.34 L468.89 142.43 L470.43 142.52 L471.98 142.60 L473.54 142.68 L475.11 142.76 L476.69 142.83 L478.29 142.91 L479.89 142.98 L481.50 143.05 L483.13 143.12 L484.76 143.19 L486.41 143.25 L488.07 143.32 L489.73 143.38 L491.41 143.44 L493.10 143.50" fill="none" stroke="#ff0000" stroke-width="1.9" stroke-linejoin="round"/>
<path d="M358.45 60.50 L358.45 60.64 L358.47 61.05 L358.50 61.74 L358.53 62.68 L358.58 63.86 L358.64 65.25 L358.71 66.83 L358.79 68.56 L358.88 70.40 L358.98 72.30 L359.09 74.20 L359.22 76.06 L359.35 77.84 L359.49 79.49 L359.65 81.00 L359.81 82.34 L359.99 83.53 L360.17 84.58 L360.37 85.51 L360.58 86.34 L360.80 87.10 L361.03 87.80 L361.27 88.48 L361.52 89.14 L361.78 89.79 L362.05 90.45 L362.33 91.11 L362.62 91.78 L362.93 92.46 L363.24 93.16 L363.57 93.87 L363.90 94.59 L364.25 95.32 L364.61 96.07 L364.97 96.82 L365.35 97.59 L365.74 98.36 L366.14 99.14 L366.55 99.92 L366.97 100.71 L367.40 101.50 L367.84 102.30 L368.30 103.09 L368.76 103.89 L369.23 104.68 L369.72 105.47 L370.21 106.26 L370.72 107.04 L371.24 107.81 L371.76 108.58 L372.30 109.34 L372.85 110.10 L373.41 110.84 L373.98 111.57 L374.56 112.30 L375.15 113.01 L375.75 113.71 L376.37 114.40 L376.99 115.08 L377.62 115.74 L378.27 116.40 L378.92 117.04 L379.59 117.67 L380.26 118.29 L380.95 118.90 L381.65 119.50 L382.36 120.08 L383.08 120.66 L383.81 121.23 L384.55 121.79 L385.30 122.34 L386.06 122.88 L386.83 123.41 L387.61 123.94 L388.41 124.46 L389.21 124.97 L390.03 125.47 L390.85 125.97 L391.69 126.47 L392.54 126.96 L393.39 127.44 L394.26 127.92 L395.14 128.39 L396.03 128.86 L396.93 129.32 L397.84 129.78 L398.76 130.23 L399.69 130.68 L400.64 131.13 L401.59 131.57 L402.55 132.00 L403.53 132.43 L404.51 132.86 L405.51 133.28 L406.52 133.70 L407.53 134.11 L408.56 134.52 L409.60 134.92 L410.65 135.31 L411.71 135.70 L412.78 136.08 L413.86 136.46 L414.95 136.83 L416.06 137.20 L417.17 137.55 L418.29 137.91 L419.43 138.25 L420.57 138.59 L421.73 138.92 L422.90 139.24 L424.07 139.55 L425.26 139.86 L426.46 140.16 L427.67 140.46 L428.89 140.74 L430.12 141.02 L431.36 141.29 L432.61 141.55 L433.87 141.80 L435.15 142.05 L436.43 142.29 L437.72 142.52 L439.03 142.74 L440.34 142.95 L441.67 143.16 L443.01 143.36 L444.35 143.55 L445.71 143.74 L447.08 143.92 L448.46 144.09 L449.85 144.25 L451.25 144.41 L452.66 144.56 L454.09 144.71 L455.52 144.85 L456.96 144.98 L458.42 145.11 L459.88 145.23 L461.36 145.35 L462.84 145.46 L464.34 145.56 L465.85 145.66 L467.36 145.76 L468.89 145.85 L470.43 145.94 L471.98 146.02 L473.54 146.10 L475.11 146.17 L476.70 146.25 L478.29 146.31 L479.89 146.38 L481.50 146.44 L483.13 146.50 L484.76 146.55 L486.41 146.60 L488.07 146.65 L489.73 146.70 L491.41 146.75 L493.10 146.79" fill="none" stroke="#000" stroke-width="2.0" stroke-dasharray="2 5"/>
<circle cx="361.20" cy="224.40" r="3.1" fill="none" stroke="#9e9e9e" stroke-width="0.85"/>
<circle cx="364.40" cy="232.70" r="3.1" fill="none" stroke="#9e9e9e" stroke-width="0.85"/>
<circle cx="368.20" cy="238.00" r="3.1" fill="none" stroke="#9e9e9e" stroke-width="0.85"/>
<circle cx="372.20" cy="245.10" r="3.1" fill="none" stroke="#9e9e9e" stroke-width="0.85"/>
<circle cx="387.25" cy="260.10" r="3.1" fill="none" stroke="#9e9e9e" stroke-width="0.85"/>
<circle cx="402.70" cy="267.80" r="3.1" fill="none" stroke="#9e9e9e" stroke-width="0.85"/>
<circle cx="417.70" cy="273.20" r="3.1" fill="none" stroke="#9e9e9e" stroke-width="0.85"/>
<circle cx="432.05" cy="281.90" r="3.1" fill="none" stroke="#9e9e9e" stroke-width="0.85"/>
<circle cx="447.60" cy="277.00" r="3.1" fill="none" stroke="#9e9e9e" stroke-width="0.85"/>
<circle cx="462.90" cy="286.20" r="3.1" fill="none" stroke="#9e9e9e" stroke-width="0.85"/>
<circle cx="477.70" cy="285.10" r="3.1" fill="none" stroke="#9e9e9e" stroke-width="0.85"/>
<circle cx="493.10" cy="280.50" r="3.1" fill="none" stroke="#9e9e9e" stroke-width="0.85"/>
<circle cx="361.20" cy="224.40" r="3.65" fill="#000"/>
<circle cx="364.40" cy="232.70" r="3.65" fill="#000"/>
<path d="M358.39 189.80 L358.40 189.93 L358.42 190.31 L358.44 190.95 L358.48 191.84 L358.53 192.97 L358.59 194.32 L358.65 195.88 L358.73 197.64 L358.82 199.57 L358.93 201.63 L359.04 203.80 L359.16 206.04 L359.29 208.30 L359.44 210.53 L359.59 212.69 L359.75 214.74 L359.93 216.65 L360.11 218.39 L360.31 219.95 L360.52 221.33 L360.74 222.55 L360.96 223.63 L361.20 224.60 L361.45 225.47 L361.71 226.28 L361.98 227.04 L362.26 227.77 L362.56 228.48 L362.86 229.19 L363.17 229.90 L363.50 230.62 L363.83 231.35 L364.18 232.09 L364.53 232.84 L364.90 233.60 L365.27 234.38 L365.66 235.17 L366.06 235.97 L366.47 236.78 L366.89 237.59 L367.32 238.42 L367.76 239.26 L368.21 240.10 L368.67 240.95 L369.14 241.80 L369.63 242.65 L370.12 243.51 L370.63 244.36 L371.14 245.21 L371.67 246.06 L372.20 246.90 L372.75 247.74 L373.31 248.57 L373.87 249.39 L374.45 250.20 L375.04 251.00 L375.64 251.78 L376.25 252.56 L376.87 253.31 L377.51 254.05 L378.15 254.78 L378.80 255.48 L379.46 256.17 L380.14 256.84 L380.82 257.49 L381.52 258.12 L382.22 258.73 L382.94 259.32 L383.67 259.89 L384.41 260.45 L385.15 260.98 L385.91 261.49 L386.68 261.99 L387.46 262.47 L388.26 262.93 L389.06 263.37 L389.87 263.80 L390.69 264.22 L391.53 264.62 L392.37 265.00 L393.22 265.38 L394.09 265.74 L394.97 266.09 L395.85 266.43 L396.75 266.76 L397.66 267.08 L398.57 267.39 L399.50 267.69 L400.44 267.99 L401.39 268.28 L402.35 268.56 L403.33 268.83 L404.31 269.10 L405.30 269.37 L406.30 269.62 L407.32 269.88 L408.34 270.13 L409.38 270.37 L410.42 270.61 L411.48 270.85 L412.55 271.08 L413.62 271.31 L414.71 271.53 L415.81 271.75 L416.92 271.97 L418.04 272.18 L419.17 272.39 L420.31 272.60 L421.47 272.80 L422.63 273.00 L423.80 273.20 L424.98 273.39 L426.18 273.58 L427.38 273.77 L428.60 273.95 L429.83 274.13 L431.06 274.31 L432.31 274.48 L433.57 274.65 L434.84 274.81 L436.12 274.98 L437.41 275.14 L438.71 275.29 L440.02 275.44 L441.34 275.59 L442.67 275.74 L444.02 275.88 L445.37 276.01 L446.73 276.15 L448.11 276.28 L449.49 276.41 L450.89 276.53 L452.30 276.65 L453.71 276.77 L455.14 276.88 L456.58 277.00 L458.03 277.10 L459.49 277.21 L460.96 277.31 L462.44 277.41 L463.93 277.50 L465.44 277.60 L466.95 277.68 L468.47 277.77 L470.01 277.85 L471.55 277.93 L473.11 278.01 L474.67 278.09 L476.25 278.16 L477.84 278.23 L479.43 278.30 L481.04 278.36 L482.66 278.42 L484.29 278.48 L485.93 278.54 L487.58 278.60 L489.24 278.65 L490.92 278.70 L492.60 278.75" fill="none" stroke="#ff0000" stroke-width="1.9" stroke-linejoin="round"/>
<path d="M358.45 197.50 L358.45 197.64 L358.47 198.05 L358.50 198.74 L358.53 199.68 L358.58 200.86 L358.64 202.25 L358.71 203.83 L358.79 205.56 L358.88 207.40 L358.98 209.30 L359.09 211.20 L359.22 213.06 L359.35 214.84 L359.49 216.49 L359.65 218.00 L359.81 219.34 L359.99 220.53 L360.17 221.58 L360.37 222.51 L360.58 223.34 L360.80 224.10 L361.03 224.80 L361.27 225.48 L361.52 226.14 L361.78 226.79 L362.05 227.45 L362.33 228.11 L362.62 228.78 L362.93 229.46 L363.24 230.16 L363.57 230.87 L363.90 231.59 L364.25 232.32 L364.61 233.07 L364.97 233.82 L365.35 234.59 L365.74 235.36 L366.14 236.14 L366.55 236.92 L366.97 237.71 L367.40 238.50 L367.84 239.30 L368.30 240.09 L368.76 240.89 L369.23 241.68 L369.72 242.47 L370.21 243.26 L370.72 244.04 L371.24 244.81 L371.76 245.58 L372.30 246.34 L372.85 247.10 L373.41 247.84 L373.98 248.57 L374.56 249.30 L375.15 250.01 L375.75 250.71 L376.37 251.40 L376.99 252.08 L377.62 252.74 L378.27 253.40 L378.92 254.04 L379.59 254.67 L380.26 255.29 L380.95 255.90 L381.65 256.50 L382.36 257.08 L383.08 257.66 L383.81 258.23 L384.55 258.79 L385.30 259.34 L386.06 259.88 L386.83 260.41 L387.61 260.94 L388.41 261.46 L389.21 261.97 L390.03 262.47 L390.85 262.97 L391.69 263.47 L392.54 263.96 L393.39 264.44 L394.26 264.92 L395.14 265.39 L396.03 265.86 L396.93 266.32 L397.84 266.78 L398.76 267.23 L399.69 267.68 L400.64 268.13 L401.59 268.57 L402.55 269.00 L403.53 269.43 L404.51 269.86 L405.51 270.28 L406.52 270.70 L407.53 271.11 L408.56 271.52 L409.60 271.92 L410.65 272.31 L411.71 272.70 L412.78 273.08 L413.86 273.46 L414.95 273.83 L416.06 274.20 L417.17 274.55 L418.29 274.91 L419.43 275.25 L420.57 275.59 L421.73 275.92 L422.90 276.24 L424.07 276.55 L425.26 276.86 L426.46 277.16 L427.67 277.46 L428.89 277.74 L430.12 278.02 L431.36 278.29 L432.61 278.55 L433.87 278.80 L435.15 279.05 L436.43 279.29 L437.72 279.52 L439.03 279.74 L440.34 279.95 L441.67 280.16 L443.01 280.36 L444.35 280.55 L445.71 280.74 L447.08 280.92 L448.46 281.09 L449.85 281.25 L451.25 281.41 L452.66 281.56 L454.09 281.71 L455.52 281.85 L456.96 281.98 L458.42 282.11 L459.88 282.23 L461.36 282.35 L462.84 282.46 L464.34 282.56 L465.85 282.66 L467.36 282.76 L468.89 282.85 L470.43 282.94 L471.98 283.02 L473.54 283.10 L475.11 283.17 L476.70 283.25 L478.29 283.31 L479.89 283.38 L481.50 283.44 L483.13 283.50 L484.76 283.55 L486.41 283.60 L488.07 283.65 L489.73 283.70 L491.41 283.75 L493.10 283.79" fill="none" stroke="#000" stroke-width="2.0" stroke-dasharray="2 5"/>
<circle cx="519.20" cy="72.25" r="3.1" fill="none" stroke="#9e9e9e" stroke-width="0.85"/>
<circle cx="521.40" cy="86.40" r="3.1" fill="none" stroke="#9e9e9e" stroke-width="0.85"/>
<circle cx="524.60" cy="93.40" r="3.1" fill="none" stroke="#9e9e9e" stroke-width="0.85"/>
<circle cx="528.20" cy="95.40" r="3.1" fill="none" stroke="#9e9e9e" stroke-width="0.85"/>
<circle cx="530.00" cy="102.60" r="3.1" fill="none" stroke="#9e9e9e" stroke-width="0.85"/>
<circle cx="544.25" cy="115.70" r="3.1" fill="none" stroke="#9e9e9e" stroke-width="0.85"/>
<circle cx="559.70" cy="125.75" r="3.1" fill="none" stroke="#9e9e9e" stroke-width="0.85"/>
<circle cx="575.00" cy="130.70" r="3.1" fill="none" stroke="#9e9e9e" stroke-width="0.85"/>
<circle cx="593.10" cy="133.65" r="3.1" fill="none" stroke="#9e9e9e" stroke-width="0.85"/>
<circle cx="605.30" cy="134.70" r="3.1" fill="none" stroke="#9e9e9e" stroke-width="0.85"/>
<circle cx="621.20" cy="136.10" r="3.1" fill="none" stroke="#9e9e9e" stroke-width="0.85"/>
<circle cx="635.70" cy="137.00" r="3.1" fill="none" stroke="#9e9e9e" stroke-width="0.85"/>
<circle cx="650.90" cy="137.40" r="3.1" fill="none" stroke="#9e9e9e" stroke-width="0.85"/>
<circle cx="519.20" cy="72.25" r="3.65" fill="#000"/>
<circle cx="650.90" cy="137.40" r="3.65" fill="#000"/>
<path d="M515.79 38.05 L515.80 38.25 L515.81 38.86 L515.84 39.86 L515.88 41.22 L515.92 42.93 L515.98 44.92 L516.05 47.16 L516.13 49.55 L516.22 52.03 L516.32 54.49 L516.44 56.85 L516.56 59.03 L516.69 60.96 L516.84 62.63 L516.99 64.04 L517.16 65.22 L517.33 66.21 L517.52 67.06 L517.72 67.82 L517.93 68.53 L518.15 69.20 L518.38 69.87 L518.62 70.54 L518.87 71.22 L519.13 71.93 L519.40 72.65 L519.69 73.40 L519.98 74.16 L520.28 74.95 L520.60 75.76 L520.93 76.59 L521.26 77.45 L521.61 78.32 L521.97 79.21 L522.34 80.12 L522.72 81.04 L523.11 81.98 L523.51 82.93 L523.92 83.90 L524.34 84.88 L524.77 85.87 L525.22 86.87 L525.67 87.87 L526.14 88.88 L526.61 89.90 L527.10 90.92 L527.60 91.93 L528.10 92.95 L528.62 93.96 L529.15 94.97 L529.69 95.98 L530.24 96.97 L530.80 97.96 L531.37 98.93 L531.96 99.90 L532.55 100.84 L533.15 101.77 L533.77 102.69 L534.39 103.58 L535.03 104.46 L535.68 105.32 L536.33 106.15 L537.00 106.96 L537.68 107.75 L538.37 108.52 L539.07 109.27 L539.78 110.00 L540.50 110.70 L541.23 111.38 L541.98 112.04 L542.73 112.68 L543.49 113.30 L544.27 113.90 L545.06 114.48 L545.85 115.04 L546.66 115.59 L547.48 116.12 L548.30 116.64 L549.14 117.14 L549.99 117.62 L550.85 118.10 L551.73 118.56 L552.61 119.02 L553.50 119.46 L554.40 119.89 L555.32 120.31 L556.24 120.73 L557.18 121.13 L558.12 121.53 L559.08 121.92 L560.05 122.31 L561.02 122.68 L562.01 123.05 L563.01 123.42 L564.02 123.78 L565.04 124.13 L566.07 124.48 L567.12 124.82 L568.17 125.16 L569.23 125.49 L570.31 125.81 L571.39 126.13 L572.49 126.45 L573.59 126.76 L574.71 127.06 L575.84 127.36 L576.98 127.66 L578.13 127.95 L579.29 128.24 L580.46 128.52 L581.64 128.79 L582.83 129.06 L584.03 129.33 L585.24 129.59 L586.47 129.84 L587.70 130.09 L588.95 130.34 L590.20 130.58 L591.47 130.82 L592.75 131.05 L594.04 131.27 L595.33 131.50 L596.64 131.71 L597.96 131.93 L599.30 132.14 L600.64 132.34 L601.99 132.54 L603.35 132.74 L604.72 132.93 L606.11 133.12 L607.50 133.31 L608.91 133.49 L610.33 133.67 L611.75 133.84 L613.19 134.01 L614.64 134.18 L616.10 134.34 L617.57 134.51 L619.05 134.67 L620.54 134.82 L622.04 134.98 L623.55 135.13 L625.08 135.27 L626.61 135.42 L628.15 135.57 L629.71 135.71 L631.28 135.85 L632.85 135.99 L634.44 136.12 L636.04 136.26 L637.65 136.39 L639.27 136.52 L640.90 136.65 L642.54 136.78 L644.19 136.91 L645.85 137.03 L647.52 137.16 L649.21 137.28 L650.90 137.41" fill="none" stroke="#ff0000" stroke-width="1.9" stroke-linejoin="round"/>
<path d="M515.99 50.65 L516.00 50.73 L516.02 50.97 L516.04 51.36 L516.08 51.91 L516.13 52.60 L516.19 53.43 L516.26 54.38 L516.34 55.44 L516.43 56.60 L516.53 57.83 L516.64 59.13 L516.76 60.47 L516.90 61.84 L517.04 63.22 L517.19 64.58 L517.36 65.93 L517.54 67.24 L517.72 68.51 L517.92 69.74 L518.13 70.92 L518.35 72.05 L518.58 73.15 L518.82 74.21 L519.07 75.25 L519.33 76.26 L519.60 77.26 L519.88 78.24 L520.18 79.22 L520.48 80.20 L520.80 81.18 L521.12 82.15 L521.46 83.14 L521.81 84.12 L522.16 85.10 L522.53 86.09 L522.91 87.07 L523.30 88.06 L523.70 89.04 L524.11 90.01 L524.53 90.98 L524.96 91.94 L525.41 92.89 L525.86 93.83 L526.33 94.76 L526.80 95.67 L527.29 96.57 L527.78 97.45 L528.29 98.32 L528.81 99.17 L529.33 100.00 L529.87 100.82 L530.42 101.62 L530.98 102.41 L531.55 103.17 L532.14 103.93 L532.73 104.66 L533.33 105.39 L533.95 106.10 L534.57 106.79 L535.20 107.48 L535.85 108.16 L536.51 108.82 L537.17 109.47 L537.85 110.12 L538.54 110.76 L539.24 111.39 L539.95 112.01 L540.67 112.62 L541.40 113.23 L542.14 113.83 L542.89 114.43 L543.66 115.02 L544.43 115.61 L545.22 116.18 L546.01 116.76 L546.82 117.33 L547.63 117.89 L548.46 118.44 L549.30 118.99 L550.15 119.53 L551.01 120.07 L551.88 120.60 L552.76 121.12 L553.65 121.63 L554.55 122.14 L555.46 122.63 L556.38 123.12 L557.32 123.60 L558.26 124.07 L559.22 124.53 L560.18 124.98 L561.16 125.42 L562.15 125.85 L563.15 126.27 L564.15 126.68 L565.17 127.08 L566.20 127.47 L567.24 127.85 L568.29 128.21 L569.36 128.57 L570.43 128.91 L571.51 129.25 L572.61 129.57 L573.71 129.88 L574.83 130.18 L575.95 130.47 L577.09 130.75 L578.24 131.02 L579.39 131.28 L580.56 131.53 L581.74 131.78 L582.93 132.01 L584.13 132.23 L585.34 132.45 L586.57 132.65 L587.80 132.85 L589.04 133.04 L590.30 133.22 L591.56 133.40 L592.84 133.57 L594.12 133.73 L595.42 133.89 L596.73 134.04 L598.04 134.19 L599.37 134.33 L600.71 134.47 L602.06 134.60 L603.42 134.73 L604.79 134.85 L606.18 134.97 L607.57 135.09 L608.97 135.20 L610.39 135.31 L611.81 135.42 L613.25 135.52 L614.69 135.62 L616.15 135.72 L617.62 135.82 L619.10 135.92 L620.58 136.01 L622.08 136.10 L623.59 136.20 L625.12 136.29 L626.65 136.37 L628.19 136.46 L629.74 136.55 L631.31 136.64 L632.88 136.72 L634.46 136.81 L636.06 136.89 L637.67 136.97 L639.28 137.06 L640.91 137.14 L642.55 137.22 L644.20 137.31 L645.86 137.39 L647.53 137.47 L649.21 137.55 L650.90 137.64" fill="none" stroke="#000" stroke-width="2.0" stroke-dasharray="2 5"/>
<circle cx="519.20" cy="209.25" r="3.1" fill="none" stroke="#9e9e9e" stroke-width="0.85"/>
<circle cx="521.40" cy="223.40" r="3.1" fill="none" stroke="#9e9e9e" stroke-width="0.85"/>
<circle cx="524.60" cy="230.40" r="3.1" fill="none" stroke="#9e9e9e" stroke-width="0.85"/>
<circle cx="528.20" cy="232.40" r="3.1" fill="none" stroke="#9e9e9e" stroke-width="0.85"/>
<circle cx="530.00" cy="239.60" r="3.1" fill="none" stroke="#9e9e9e" stroke-width="0.85"/>
<circle cx="544.25" cy="252.70" r="3.1" fill="none" stroke="#9e9e9e" stroke-width="0.85"/>
<circle cx="559.70" cy="262.75" r="3.1" fill="none" stroke="#9e9e9e" stroke-width="0.85"/>
<circle cx="575.00" cy="267.70" r="3.1" fill="none" stroke="#9e9e9e" stroke-width="0.85"/>
<circle cx="593.10" cy="270.65" r="3.1" fill="none" stroke="#9e9e9e" stroke-width="0.85"/>
<circle cx="605.30" cy="271.70" r="3.1" fill="none" stroke="#9e9e9e" stroke-width="0.85"/>
<circle cx="621.20" cy="273.10" r="3.1" fill="none" stroke="#9e9e9e" stroke-width="0.85"/>
<circle cx="635.70" cy="274.00" r="3.1" fill="none" stroke="#9e9e9e" stroke-width="0.85"/>
<circle cx="650.90" cy="274.40" r="3.1" fill="none" stroke="#9e9e9e" stroke-width="0.85"/>
<circle cx="519.20" cy="209.25" r="3.65" fill="#000"/>
<circle cx="521.40" cy="223.40" r="3.65" fill="#000"/>
<path d="M515.82 173.00 L515.83 173.07 L515.84 173.29 L515.87 173.65 L515.91 174.15 L515.95 174.79 L516.01 175.58 L516.08 176.50 L516.16 177.56 L516.25 178.75 L516.35 180.08 L516.47 181.53 L516.59 183.11 L516.72 184.80 L516.87 186.60 L517.02 188.51 L517.19 190.51 L517.36 192.60 L517.55 194.75 L517.75 196.96 L517.96 199.21 L518.17 201.48 L518.40 203.76 L518.64 206.01 L518.90 208.21 L519.16 210.35 L519.43 212.40 L519.71 214.35 L520.01 216.17 L520.31 217.86 L520.63 219.42 L520.95 220.84 L521.29 222.14 L521.63 223.31 L521.99 224.37 L522.36 225.34 L522.74 226.23 L523.13 227.05 L523.53 227.82 L523.94 228.55 L524.36 229.24 L524.79 229.91 L525.24 230.57 L525.69 231.21 L526.16 231.85 L526.63 232.49 L527.12 233.13 L527.61 233.76 L528.12 234.40 L528.64 235.05 L529.17 235.69 L529.71 236.34 L530.26 237.00 L530.82 237.65 L531.39 238.31 L531.97 238.97 L532.56 239.64 L533.17 240.30 L533.78 240.96 L534.41 241.62 L535.04 242.29 L535.69 242.95 L536.34 243.60 L537.01 244.26 L537.69 244.90 L538.38 245.55 L539.08 246.18 L539.79 246.82 L540.51 247.44 L541.24 248.05 L541.98 248.66 L542.73 249.25 L543.50 249.84 L544.27 250.41 L545.06 250.97 L545.85 251.52 L546.66 252.06 L547.48 252.58 L548.30 253.10 L549.14 253.59 L549.99 254.07 L550.85 254.54 L551.72 255.00 L552.60 255.43 L553.49 255.86 L554.40 256.27 L555.31 256.66 L556.23 257.05 L557.17 257.41 L558.11 257.77 L559.07 258.11 L560.03 258.43 L561.01 258.74 L562.00 259.04 L563.00 259.33 L564.01 259.61 L565.03 259.88 L566.06 260.13 L567.10 260.37 L568.15 260.61 L569.21 260.83 L570.28 261.05 L571.37 261.26 L572.46 261.45 L573.57 261.65 L574.68 261.83 L575.81 262.01 L576.95 262.18 L578.10 262.34 L579.25 262.50 L580.42 262.66 L581.60 262.81 L582.79 262.95 L584.00 263.09 L585.21 263.23 L586.43 263.36 L587.66 263.49 L588.91 263.61 L590.16 263.74 L591.43 263.86 L592.70 263.97 L593.99 264.09 L595.29 264.20 L596.60 264.31 L597.92 264.42 L599.24 264.52 L600.58 264.62 L601.94 264.73 L603.30 264.83 L604.67 264.92 L606.05 265.02 L607.45 265.12 L608.85 265.21 L610.26 265.30 L611.69 265.39 L613.13 265.48 L614.57 265.57 L616.03 265.66 L617.50 265.75 L618.98 265.83 L620.47 265.92 L621.97 266.00 L623.48 266.08 L625.00 266.16 L626.53 266.24 L628.08 266.32 L629.63 266.40 L631.19 266.47 L632.77 266.55 L634.36 266.62 L635.95 266.70 L637.56 266.77 L639.18 266.84 L640.81 266.91 L642.44 266.98 L644.09 267.05 L645.75 267.12 L647.43 267.18 L649.11 267.25 L650.80 267.31" fill="none" stroke="#ff0000" stroke-width="1.9" stroke-linejoin="round"/>
<path d="M515.99 187.65 L516.00 187.73 L516.02 187.97 L516.04 188.36 L516.08 188.91 L516.13 189.60 L516.19 190.43 L516.26 191.38 L516.34 192.44 L516.43 193.60 L516.53 194.83 L516.64 196.13 L516.76 197.47 L516.90 198.84 L517.04 200.22 L517.19 201.58 L517.36 202.93 L517.54 204.24 L517.72 205.51 L517.92 206.74 L518.13 207.92 L518.35 209.05 L518.58 210.15 L518.82 211.21 L519.07 212.25 L519.33 213.26 L519.60 214.26 L519.88 215.24 L520.18 216.22 L520.48 217.20 L520.80 218.18 L521.12 219.15 L521.46 220.14 L521.81 221.12 L522.16 222.10 L522.53 223.09 L522.91 224.07 L523.30 225.06 L523.70 226.04 L524.11 227.01 L524.53 227.98 L524.96 228.94 L525.41 229.89 L525.86 230.83 L526.33 231.76 L526.80 232.67 L527.29 233.57 L527.78 234.45 L528.29 235.32 L528.81 236.17 L529.33 237.00 L529.87 237.82 L530.42 238.62 L530.98 239.41 L531.55 240.17 L532.14 240.93 L532.73 241.66 L533.33 242.39 L533.95 243.10 L534.57 243.79 L535.20 244.48 L535.85 245.16 L536.51 245.82 L537.17 246.47 L537.85 247.12 L538.54 247.76 L539.24 248.39 L539.95 249.01 L540.67 249.62 L541.40 250.23 L542.14 250.83 L542.89 251.43 L543.66 252.02 L544.43 252.61 L545.22 253.18 L546.01 253.76 L546.82 254.33 L547.63 254.89 L548.46 255.44 L549.30 255.99 L550.15 256.53 L551.01 257.07 L551.88 257.60 L552.76 258.12 L553.65 258.63 L554.55 259.14 L555.46 259.63 L556.38 260.12 L557.32 260.60 L558.26 261.07 L559.22 261.53 L560.18 261.98 L561.16 262.42 L562.15 262.85 L563.15 263.27 L564.15 263.68 L565.17 264.08 L566.20 264.47 L567.24 264.85 L568.29 265.21 L569.36 265.57 L570.43 265.91 L571.51 266.25 L572.61 266.57 L573.71 266.88 L574.83 267.18 L575.95 267.47 L577.09 267.75 L578.24 268.02 L579.39 268.28 L580.56 268.53 L581.74 268.78 L582.93 269.01 L584.13 269.23 L585.34 269.45 L586.57 269.65 L587.80 269.85 L589.04 270.04 L590.30 270.22 L591.56 270.40 L592.84 270.57 L594.12 270.73 L595.42 270.89 L596.73 271.04 L598.04 271.19 L599.37 271.33 L600.71 271.47 L602.06 271.60 L603.42 271.73 L604.79 271.85 L606.18 271.97 L607.57 272.09 L608.97 272.20 L610.39 272.31 L611.81 272.42 L613.25 272.52 L614.69 272.62 L616.15 272.72 L617.62 272.82 L619.10 272.92 L620.58 273.01 L622.08 273.10 L623.59 273.20 L625.12 273.29 L626.65 273.37 L628.19 273.46 L629.74 273.55 L631.31 273.64 L632.88 273.72 L634.46 273.81 L636.06 273.89 L637.67 273.97 L639.28 274.06 L640.91 274.14 L642.55 274.22 L644.20 274.31 L645.86 274.39 L647.53 274.47 L649.21 274.55 L650.90 274.64" fill="none" stroke="#000" stroke-width="2.0" stroke-dasharray="2 5"/>
<rect x="36.90" y="27.50" width="147.60" height="127.00" fill="none" stroke="#b3b3b3" stroke-width="0.85"/>
<rect x="194.50" y="27.50" width="147.60" height="127.00" fill="none" stroke="#b3b3b3" stroke-width="0.85"/>
<rect x="352.10" y="27.50" width="147.60" height="127.00" fill="none" stroke="#b3b3b3" stroke-width="0.85"/>
<rect x="509.70" y="27.50" width="147.60" height="127.00" fill="none" stroke="#b3b3b3" stroke-width="0.85"/>
<rect x="36.90" y="164.50" width="147.60" height="127.00" fill="none" stroke="#b3b3b3" stroke-width="0.85"/>
<rect x="194.50" y="164.50" width="147.60" height="127.00" fill="none" stroke="#b3b3b3" stroke-width="0.85"/>
<rect x="352.10" y="164.50" width="147.60" height="127.00" fill="none" stroke="#b3b3b3" stroke-width="0.85"/>
<rect x="509.70" y="164.50" width="147.60" height="127.00" fill="none" stroke="#b3b3b3" stroke-width="0.85"/>
<rect x="36.45" y="0" width="148.50" height="27.50" fill="#b3b3b3"/>
<text x="110.70" y="18.75" font-size="14.3" fill="#fff" text-anchor="middle" font-family='"Liberation Sans", Arial, sans-serif'>A</text>
<rect x="194.05" y="0" width="148.50" height="27.50" fill="#b3b3b3"/>
<text x="268.30" y="18.75" font-size="14.3" fill="#fff" text-anchor="middle" font-family='"Liberation Sans", Arial, sans-serif'>B</text>
<rect x="351.65" y="0" width="148.50" height="27.50" fill="#b3b3b3"/>
<text x="425.90" y="18.75" font-size="14.3" fill="#fff" text-anchor="middle" font-family='"Liberation Sans", Arial, sans-serif'>C</text>
<rect x="509.25" y="0" width="148.50" height="27.50" fill="#b3b3b3"/>
<text x="583.50" y="18.75" font-size="14.3" fill="#fff" text-anchor="middle" font-family='"Liberation Sans", Arial, sans-serif'>D</text>
<rect x="657.30" y="27.05" width="27.70" height="127.90" fill="#b3b3b3"/>
<text transform="translate(666.05,91.00) rotate(90)" font-size="14.3" fill="#fff" text-anchor="middle" font-family='"Liberation Sans", Arial, sans-serif'>First and last</text>
<rect x="657.30" y="164.05" width="27.70" height="127.90" fill="#b3b3b3"/>
<text transform="translate(666.05,228.00) rotate(90)" font-size="14.3" fill="#fff" text-anchor="middle" font-family='"Liberation Sans", Arial, sans-serif'>First two</text>
<line x1="32.00" y1="122.50" x2="36.90" y2="122.50" stroke="#b3b3b3" stroke-width="0.9"/>
<text x="28.2" y="127.60" font-size="14.3" fill="#4d4d4d" text-anchor="end" font-family='"Liberation Sans", Arial, sans-serif'>0</text>
<line x1="32.00" y1="86.50" x2="36.90" y2="86.50" stroke="#b3b3b3" stroke-width="0.9"/>
<text x="28.2" y="91.60" font-size="14.3" fill="#4d4d4d" text-anchor="end" font-family='"Liberation Sans", Arial, sans-serif'>2</text>
<line x1="32.00" y1="50.50" x2="36.90" y2="50.50" stroke="#b3b3b3" stroke-width="0.9"/>
<text x="28.2" y="55.60" font-size="14.3" fill="#4d4d4d" text-anchor="end" font-family='"Liberation Sans", Arial, sans-serif'>4</text>
<line x1="32.00" y1="259.50" x2="36.90" y2="259.50" stroke="#b3b3b3" stroke-width="0.9"/>
<text x="28.2" y="264.60" font-size="14.3" fill="#4d4d4d" text-anchor="end" font-family='"Liberation Sans", Arial, sans-serif'>0</text>
<line x1="32.00" y1="223.50" x2="36.90" y2="223.50" stroke="#b3b3b3" stroke-width="0.9"/>
<text x="28.2" y="228.60" font-size="14.3" fill="#4d4d4d" text-anchor="end" font-family='"Liberation Sans", Arial, sans-serif'>2</text>
<line x1="32.00" y1="187.50" x2="36.90" y2="187.50" stroke="#b3b3b3" stroke-width="0.9"/>
<text x="28.2" y="192.60" font-size="14.3" fill="#4d4d4d" text-anchor="end" font-family='"Liberation Sans", Arial, sans-serif'>4</text>
<line x1="41.55" y1="291.50" x2="41.55" y2="295.90" stroke="#b3b3b3" stroke-width="0.9"/>
<text x="41.55" y="309.9" font-size="14.3" fill="#4d4d4d" text-anchor="middle" font-family='"Liberation Sans", Arial, sans-serif'>0</text>
<line x1="79.50" y1="291.50" x2="79.50" y2="295.90" stroke="#b3b3b3" stroke-width="0.9"/>
<text x="79.50" y="309.9" font-size="14.3" fill="#4d4d4d" text-anchor="middle" font-family='"Liberation Sans", Arial, sans-serif'>25</text>
<line x1="117.45" y1="291.50" x2="117.45" y2="295.90" stroke="#b3b3b3" stroke-width="0.9"/>
<text x="117.45" y="309.9" font-size="14.3" fill="#4d4d4d" text-anchor="middle" font-family='"Liberation Sans", Arial, sans-serif'>50</text>
<line x1="155.40" y1="291.50" x2="155.40" y2="295.90" stroke="#b3b3b3" stroke-width="0.9"/>
<text x="155.40" y="309.9" font-size="14.3" fill="#4d4d4d" text-anchor="middle" font-family='"Liberation Sans", Arial, sans-serif'>75</text>
<line x1="199.15" y1="291.50" x2="199.15" y2="295.90" stroke="#b3b3b3" stroke-width="0.9"/>
<text x="199.15" y="309.9" font-size="14.3" fill="#4d4d4d" text-anchor="middle" font-family='"Liberation Sans", Arial, sans-serif'>0</text>
<line x1="237.10" y1="291.50" x2="237.10" y2="295.90" stroke="#b3b3b3" stroke-width="0.9"/>
<text x="237.10" y="309.9" font-size="14.3" fill="#4d4d4d" text-anchor="middle" font-family='"Liberation Sans", Arial, sans-serif'>25</text>
<line x1="275.05" y1="291.50" x2="275.05" y2="295.90" stroke="#b3b3b3" stroke-width="0.9"/>
<text x="275.05" y="309.9" font-size="14.3" fill="#4d4d4d" text-anchor="middle" font-family='"Liberation Sans", Arial, sans-serif'>50</text>
<line x1="313.00" y1="291.50" x2="313.00" y2="295.90" stroke="#b3b3b3" stroke-width="0.9"/>
<text x="313.00" y="309.9" font-size="14.3" fill="#4d4d4d" text-anchor="middle" font-family='"Liberation Sans", Arial, sans-serif'>75</text>
<line x1="356.75" y1="291.50" x2="356.75" y2="295.90" stroke="#b3b3b3" stroke-width="0.9"/>
<text x="356.75" y="309.9" font-size="14.3" fill="#4d4d4d" text-anchor="middle" font-family='"Liberation Sans", Arial, sans-serif'>0</text>
<line x1="394.70" y1="291.50" x2="394.70" y2="295.90" stroke="#b3b3b3" stroke-width="0.9"/>
<text x="394.70" y="309.9" font-size="14.3" fill="#4d4d4d" text-anchor="middle" font-family='"Liberation Sans", Arial, sans-serif'>25</text>
<line x1="432.65" y1="291.50" x2="432.65" y2="295.90" stroke="#b3b3b3" stroke-width="0.9"/>
<text x="432.65" y="309.9" font-size="14.3" fill="#4d4d4d" text-anchor="middle" font-family='"Liberation Sans", Arial, sans-serif'>50</text>
<line x1="470.60" y1="291.50" x2="470.60" y2="295.90" stroke="#b3b3b3" stroke-width="0.9"/>
<text x="470.60" y="309.9" font-size="14.3" fill="#4d4d4d" text-anchor="middle" font-family='"Liberation Sans", Arial, sans-serif'>75</text>
<line x1="514.35" y1="291.50" x2="514.35" y2="295.90" stroke="#b3b3b3" stroke-width="0.9"/>
<text x="514.35" y="309.9" font-size="14.3" fill="#4d4d4d" text-anchor="middle" font-family='"Liberation Sans", Arial, sans-serif'>0</text>
<line x1="552.30" y1="291.50" x2="552.30" y2="295.90" stroke="#b3b3b3" stroke-width="0.9"/>
<text x="552.30" y="309.9" font-size="14.3" fill="#4d4d4d" text-anchor="middle" font-family='"Liberation Sans", Arial, sans-serif'>25</text>
<line x1="590.25" y1="291.50" x2="590.25" y2="295.90" stroke="#b3b3b3" stroke-width="0.9"/>
<text x="590.25" y="309.9" font-size="14.3" fill="#4d4d4d" text-anchor="middle" font-family='"Liberation Sans", Arial, sans-serif'>50</text>
<line x1="628.20" y1="291.50" x2="628.20" y2="295.90" stroke="#b3b3b3" stroke-width="0.9"/>
<text x="628.20" y="309.9" font-size="14.3" fill="#4d4d4d" text-anchor="middle" font-family='"Liberation Sans", Arial, sans-serif'>75</text>
<text x="347.3" y="329.7" font-size="18" fill="#000" text-anchor="middle" font-family='"Liberation Sans", Arial, sans-serif'>time (min)</text>
<text transform="translate(12.5,159.2) rotate(-90)" font-size="18" fill="#000" text-anchor="middle" font-family='"Liberation Sans", Arial, sans-serif'>log(AIF)</text>
</svg></body></html>
